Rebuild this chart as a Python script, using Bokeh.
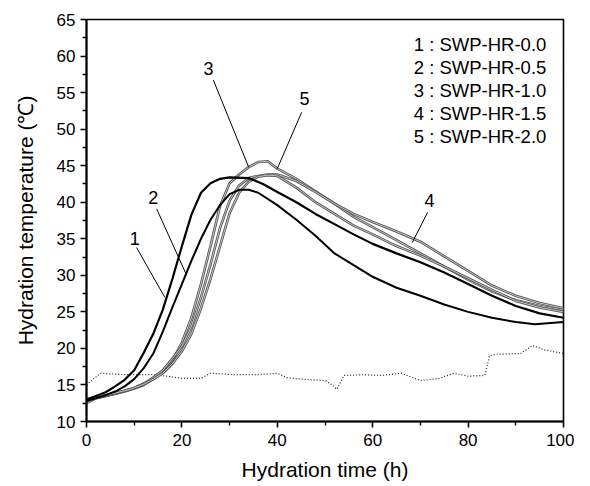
from bokeh.plotting import figure
from bokeh.embed import file_html
from bokeh.resources import INLINE
from bokeh.models import Range1d, FixedTicker
from bokeh.core.properties import value

# ---- data ----
t1 = [0, 2, 4, 6, 8, 10, 12, 14, 16, 18, 20, 22, 24, 26, 28, 30, 34, 37, 40, 44, 48, 52, 56, 60, 65, 70, 75, 80, 85, 90, 95, 100]
T1 = [13.0, 13.5, 14.0, 14.8, 15.7, 17.0, 19.4, 22.0, 25.3, 29.5, 34.0, 38.3, 41.3, 42.6, 43.2, 43.4, 43.3, 42.5, 41.4, 40.0, 38.4, 37.0, 35.6, 34.3, 33.0, 31.8, 30.4, 28.8, 27.2, 25.8, 24.8, 24.2]

t2 = [0, 2, 4, 6, 8, 10, 12, 14, 16, 18, 20, 22, 24, 26, 28, 30, 32, 34, 36, 40, 44, 48, 52, 56, 60, 65, 70, 75, 80, 85, 90, 94, 100]
T2 = [12.8, 13.2, 13.6, 14.1, 14.8, 15.8, 17.3, 19.3, 22.3, 25.6, 28.8, 32.0, 35.0, 37.6, 39.6, 41.1, 41.7, 41.7, 41.3, 39.6, 37.6, 35.4, 33.0, 31.4, 29.8, 28.3, 27.2, 26.0, 25.0, 24.2, 23.6, 23.3, 23.6]

t3 = [0, 2, 4, 6, 8, 10, 12, 14, 16, 18, 20, 22, 24, 26, 28, 30, 32, 34, 36, 38, 40, 44, 48, 52, 56, 60, 65, 70, 75, 80, 85, 90, 95, 100]
T3 = [12.5, 13.2, 13.5, 13.8, 14.1, 14.5, 15.0, 15.8, 16.8, 18.3, 20.8, 24.2, 28.8, 34.0, 39.5, 42.6, 43.8, 44.8, 45.5, 45.6, 44.6, 43.2, 41.5, 39.8, 38.0, 36.6, 34.8, 33.0, 31.2, 29.4, 27.8, 26.6, 25.8, 25.3]

t4 = [0, 2, 4, 6, 8, 10, 12, 14, 16, 18, 20, 22, 24, 26, 28, 30, 32, 34, 36, 38, 40, 44, 48, 52, 56, 60, 65, 70, 75, 80, 85, 90, 95, 100]
T4 = [12.8, 13.2, 13.5, 13.8, 14.2, 14.6, 15.2, 16.0, 17.0, 18.6, 20.3, 23.0, 27.0, 31.5, 36.5, 40.2, 42.3, 43.3, 43.6, 43.8, 43.8, 42.9, 41.4, 39.8, 38.4, 37.3, 36.0, 34.6, 32.6, 30.6, 28.6, 27.2, 26.2, 25.5]

t5 = [0, 2, 4, 6, 8, 10, 12, 14, 16, 18, 20, 22, 24, 26, 28, 30, 32, 34, 36, 38, 40, 44, 48, 52, 56, 60, 65, 70, 75, 80, 85, 90, 95, 100]
T5 = [13.0, 13.3, 13.6, 13.9, 14.2, 14.6, 15.1, 15.8, 16.6, 17.9, 19.6, 22.0, 25.5, 29.5, 34.0, 38.5, 41.3, 42.8, 43.5, 43.7, 43.6, 42.0, 40.0, 38.4, 36.8, 35.6, 34.0, 32.7, 31.2, 29.6, 28.0, 26.5, 25.6, 25.0]

t_amb = [0, 1, 3, 8, 14, 17, 20, 24, 26, 31, 36, 40, 42, 45, 50, 51.5, 52.5, 54, 58, 62, 66, 70, 74, 77, 80, 83.5, 84.5, 86, 91, 93.5, 96, 100]
T_amb = [15.0, 15.6, 16.6, 16.4, 16.4, 16.2, 15.9, 15.9, 16.6, 16.4, 16.4, 16.6, 16.0, 15.8, 15.6, 15.0, 14.4, 16.3, 16.4, 16.3, 16.6, 15.6, 15.9, 16.6, 16.2, 16.3, 19.0, 19.2, 19.3, 20.4, 19.8, 19.3]

legend_lines = ["1 : SWP-HR-0.0", "2 : SWP-HR-0.5", "3 : SWP-HR-1.0", "4 : SWP-HR-1.5", "5 : SWP-HR-2.0"]

# curve labels: text, text position, leader line start, leader line end
curve_labels = ["1", "2", "3", "4", "5"]
label_xy = [(10.1, 35.0), (14.0, 40.6), (25.6, 58.3), (71.9, 40.2), (45.7, 54.2)]
leader_from = [(10.5, 33.8), (14.7, 39.1), (26.6, 56.7), (71.5, 38.6), (45.1, 52.3)]
leader_to = [(16.4, 27.0), (21.0, 30.0), (34.0, 44.8), (68.3, 34.5), (40.0, 44.6)]

FONT = "Liberation Sans"

p = figure(output_backend="svg", toolbar_location=None,
           frame_width=477, frame_height=402,
           min_border_left=86, min_border_right=11, min_border_top=19, min_border_bottom=49,
           x_range=Range1d(0, 100), y_range=Range1d(10, 65))
p.background_fill_color = "white"
p.border_fill_color = "white"
p.outline_line_color = "black"
p.outline_line_width = 1.6
p.xgrid.visible = False
p.ygrid.visible = False

# ambient
p.line(t_amb, T_amb, line_color="#222222", line_width=1.2, line_dash="1 2")

# gray (hollow-looking) curves
for tt, TT in [(t3, T3), (t4, T4), (t5, T5)]:
    p.line(tt, TT, line_color="#555555", line_width=2.6)
    p.line(tt, TT, line_color="#d0d0d0", line_width=0.9)

# black curves
p.line(t1, T1, line_color="black", line_width=2.2)
p.line(t2, T2, line_color="black", line_width=2.0)

# leader lines and labels
for lab, (lx, ly), (fx, fy), (ex, ey) in zip(curve_labels, label_xy, leader_from, leader_to):
    p.segment(x0=[fx], y0=[fy], x1=[ex], y1=[ey], line_color="black", line_width=1)
    p.text(x=[lx], y=[ly], text=[lab], text_font=value(FONT), text_font_size="18px",
           text_align="center", text_baseline="middle", text_color="black")

# legend text
leg_y = [61.6 - 3.15 * i for i in range(len(legend_lines))]
p.text(x=[68.6] * len(legend_lines), y=leg_y, text=legend_lines, text_font=value(FONT),
       text_font_size="18.5px", text_align="left", text_baseline="middle", text_color="black")

# axes
p.xaxis.ticker = FixedTicker(ticks=[0, 20, 40, 60, 80, 100], minor_ticks=[10, 30, 50, 70, 90])
p.yaxis.ticker = FixedTicker(ticks=list(range(10, 66, 5)), minor_ticks=[x + 2.5 for x in range(10, 65, 5)])
for ax in (p.xaxis[0], p.yaxis[0]):
    ax.axis_line_color = "black"
    ax.axis_line_width = 2
    ax.major_tick_line_color = "black"
    ax.major_tick_line_width = 1.6
    ax.minor_tick_line_color = "black"
    ax.minor_tick_line_width = 1.4
    ax.major_tick_out = 6
    ax.major_tick_in = 0
    ax.minor_tick_out = 4
    ax.minor_tick_in = 0
    ax.major_label_text_font = FONT
    ax.major_label_text_font_size = "17px"
    ax.major_label_text_color = "black"
    ax.axis_label_text_font = FONT
    ax.axis_label_text_font_size = "21px"
    ax.axis_label_text_font_style = "normal"
    ax.axis_label_text_color = "black"

p.xaxis.axis_label = "Hydration time (h)"
p.yaxis.axis_label = "Hydration temperature (℃)"
p.xaxis.major_label_standoff = 6
p.xaxis.axis_label_standoff = 9
p.yaxis.major_label_standoff = 5
p.yaxis.axis_label_standoff = 17

open("out.html", "w").write(file_html(p, INLINE))
